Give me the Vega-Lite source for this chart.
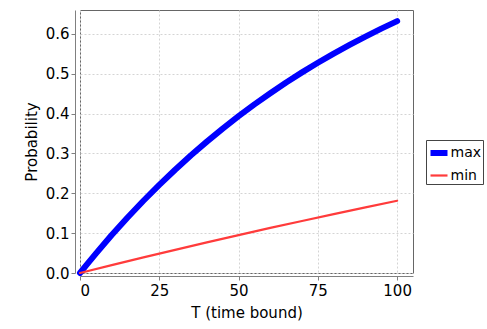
{
  "$schema": "https://vega.github.io/schema/vega-lite/v6.json",
  "width": 333,
  "height": 263,
  "autosize": "none",
  "padding": {"left": 80, "top": 10, "right": 74, "bottom": 56},
  "background": "white",
  "config": {
    "font": "DejaVu Sans",
    "view": {"stroke": "#666666", "strokeWidth": 1},
    "axis": {
      "labelFont": "DejaVu Sans",
      "titleFont": "DejaVu Sans",
      "labelFontSize": 15,
      "titleFontSize": 15,
      "titleFontWeight": "normal",
      "labelColor": "#000000",
      "titleColor": "#000000",
      "domainColor": "#808080",
      "tickColor": "#808080",
      "tickSize": 4,
      "gridColor": "#d4d4d4",
      "gridDash": [2, 2],
      "gridWidth": 1
    }
  },
  "data": {
    "values": [
      {"T": 0, "p": 0.0, "series": "max"},
      {"T": 2, "p": 0.0198, "series": "max"},
      {"T": 5, "p": 0.0488, "series": "max"},
      {"T": 10, "p": 0.0952, "series": "max"},
      {"T": 15, "p": 0.1393, "series": "max"},
      {"T": 20, "p": 0.1813, "series": "max"},
      {"T": 25, "p": 0.2212, "series": "max"},
      {"T": 30, "p": 0.2592, "series": "max"},
      {"T": 35, "p": 0.2953, "series": "max"},
      {"T": 40, "p": 0.3297, "series": "max"},
      {"T": 45, "p": 0.3624, "series": "max"},
      {"T": 50, "p": 0.3935, "series": "max"},
      {"T": 55, "p": 0.4231, "series": "max"},
      {"T": 60, "p": 0.4512, "series": "max"},
      {"T": 65, "p": 0.4780, "series": "max"},
      {"T": 70, "p": 0.5034, "series": "max"},
      {"T": 75, "p": 0.5276, "series": "max"},
      {"T": 80, "p": 0.5507, "series": "max"},
      {"T": 85, "p": 0.5726, "series": "max"},
      {"T": 90, "p": 0.5934, "series": "max"},
      {"T": 95, "p": 0.6133, "series": "max"},
      {"T": 100, "p": 0.6321, "series": "max"},
      {"T": 0, "p": 0.0, "series": "min"},
      {"T": 10, "p": 0.0198, "series": "min"},
      {"T": 20, "p": 0.0392, "series": "min"},
      {"T": 30, "p": 0.0582, "series": "min"},
      {"T": 40, "p": 0.0769, "series": "min"},
      {"T": 50, "p": 0.0952, "series": "min"},
      {"T": 60, "p": 0.1131, "series": "min"},
      {"T": 70, "p": 0.1306, "series": "min"},
      {"T": 80, "p": 0.1479, "series": "min"},
      {"T": 90, "p": 0.1647, "series": "min"},
      {"T": 100, "p": 0.1813, "series": "min"}
    ]
  },
  "mark": {"type": "line", "strokeCap": "round", "strokeJoin": "round"},
  "encoding": {
    "x": {
      "field": "T",
      "type": "quantitative",
      "scale": {"domain": [0, 105], "nice": false, "zero": false},
      "axis": {
        "title": "T (time bound)",
        "values": [0, 25, 50, 75, 100],
        "offset": 3,
        "labelPadding": 3,
        "titlePadding": 7
      }
    },
    "y": {
      "field": "p",
      "type": "quantitative",
      "scale": {"domain": [0, 0.66], "nice": false},
      "axis": {
        "title": "Probability",
        "values": [0, 0.1, 0.2, 0.3, 0.4, 0.5, 0.6],
        "format": ".1f",
        "offset": 5,
        "labelPadding": 2,
        "titlePadding": 6
      }
    },
    "color": {
      "field": "series",
      "type": "nominal",
      "scale": {"domain": ["max", "min"], "range": ["#0000ff", "#ff3b3b"]},
      "legend": {
        "title": null,
        "orient": "none",
        "legendX": 346,
        "legendY": 130,
        "symbolType": "stroke",
        "symbolSize": 289,
        "labelFontSize": 14,
        "labelFont": "DejaVu Sans",
        "labelColor": "#000000",
        "labelOffset": 0,
        "padding": 1.5,
        "rowPadding": 0,
        "strokeColor": "#444444",
        "fillColor": "white"
      }
    },
    "strokeWidth": {
      "field": "series",
      "type": "nominal",
      "scale": {"domain": ["max", "min"], "range": [6, 2.2]},
      "legend": null
    }
  }
}
